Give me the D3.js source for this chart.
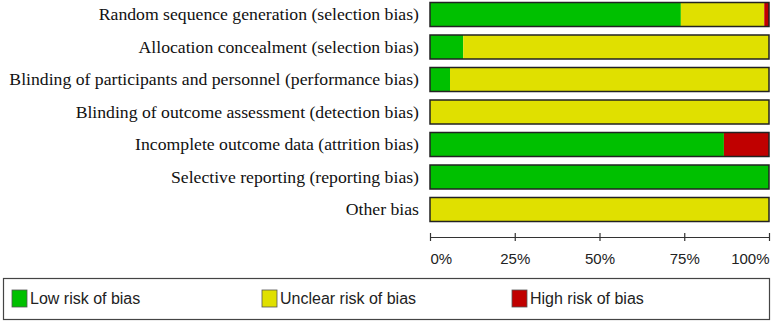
<!DOCTYPE html>
<html>
<head>
  <style>
    body, html { margin: 0; padding: 0; background: #fff; }
  </style>
</head>
<body>
  <svg id="svg" width="774" height="324"></svg>
  <script src="https://d3js.org/d3.v7.min.js"></script>
  <script>
    const domains = [
      "Random sequence generation (selection bias)",
      "Allocation concealment (selection bias)",
      "Blinding of participants and personnel (performance bias)",
      "Blinding of outcome assessment (detection bias)",
      "Incomplete outcome data (attrition bias)",
      "Selective reporting (reporting bias)",
      "Other bias"
    ]
    const lowRisk = [74, 9.8, 5.9, 0, 86.7, 100, 0]
    const unclearRisk = [24.6, 90.2, 94.1, 100, 0, 0, 100]
    const highRisk = [1.4, 0, 0, 0, 13.3, 0, 0]
    const tickValues = [0, 25, 50, 75, 100]
    const legendLabels = ["Low risk of bias", "Unclear risk of bias", "High risk of bias"]
    const colors = ["#00c000", "#e0e000", "#c00000"]

    const svg = d3.select("#svg")
    const left = 430, right = 769
    const barH = 24

    const x = d3.scaleLinear().domain([0, 100]).range([left, right])
    const y = d3.scalePoint().domain(domains).range([14.5, 209.5])

    const rows = domains.map((d, i) => ({ name: d, vals: [lowRisk[i], unclearRisk[i], highRisk[i]] }))

    const row = svg.append("g").selectAll("g").data(rows).join("g")
      .attr("transform", d => `translate(0, ${y(d.name) - barH / 2})`)

    row.each(function (d) {
      const g = d3.select(this)
      let acc = 0
      d.vals.forEach((v, k) => {
        if (v > 0) {
          g.append("rect")
            .attr("x", x(acc)).attr("y", 0)
            .attr("width", x(acc + v) - x(acc)).attr("height", barH)
            .attr("fill", colors[k])
        }
        acc += v
      })
      g.append("rect")
        .attr("x", x(0)).attr("y", 0)
        .attr("width", x(100) - x(0)).attr("height", barH)
        .attr("fill", "none").attr("stroke", "#222").attr("stroke-width", 1.5)
    })

    row.append("text")
      .attr("x", 419).attr("y", barH / 2)
      .attr("dy", "0.33em")
      .attr("text-anchor", "end")
      .attr("font-family", "Liberation Serif, Times New Roman, serif")
      .attr("font-size", 17.7)
      .attr("fill", "#111")
      .text(d => d.name)

    const axis = svg.append("g")
      .attr("transform", "translate(0, 237)")
      .call(d3.axisBottom(x).tickValues(tickValues).tickSize(0).tickFormat(d => d + "%"))
    axis.select(".domain").attr("stroke", "#333").attr("stroke-width", 1.2)
    axis.selectAll(".tick line").attr("y1", -4).attr("y2", 4).attr("stroke", "#333").attr("stroke-width", 1.2)
    axis.selectAll(".tick text")
      .attr("y", 16)
      .attr("font-family", "Liberation Sans, Arial, sans-serif")
      .attr("font-size", 15)
      .attr("fill", "#222")
      .attr("text-anchor", (d, i) => i === 0 ? "start" : i === tickValues.length - 1 ? "end" : "middle")

    const legend = svg.append("g")
    legend.append("rect")
      .attr("x", 3.5).attr("y", 278.5).attr("width", 766).attr("height", 41)
      .attr("fill", "#fff").attr("stroke", "#444").attr("stroke-width", 1.2)

    const item = legend.selectAll("g.item").data(legendLabels).join("g")
      .attr("class", "item")
      .attr("transform", (d, i) => `translate(${12 + i * 250}, 290)`)
    item.append("rect")
      .attr("width", 15).attr("height", 17)
      .attr("fill", (d, i) => colors[i]).attr("stroke", "#555").attr("stroke-width", 0.8)
    item.append("text")
      .attr("x", 18).attr("y", 8.5).attr("dy", "0.35em")
      .attr("font-family", "Liberation Sans, Arial, sans-serif")
      .attr("font-size", 16)
      .attr("fill", "#222")
      .text(d => d)
  </script>
</body>
</html>
